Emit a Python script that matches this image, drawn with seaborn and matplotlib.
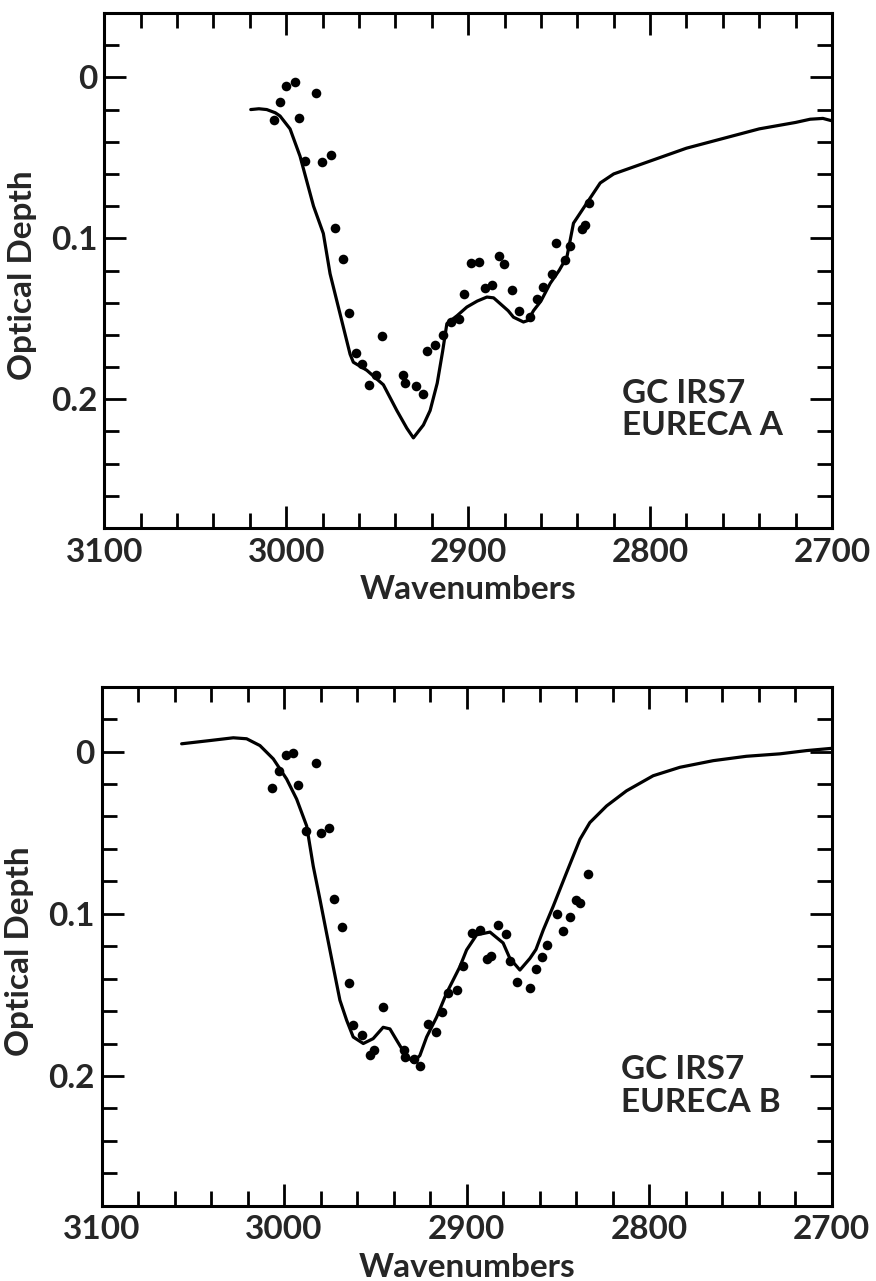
import matplotlib
matplotlib.use("Agg")
import matplotlib.pyplot as plt
from matplotlib.ticker import MultipleLocator, FixedLocator, FixedFormatter
import seaborn as sns
import pandas as pd

# ---------------- data ----------------
# Panel A (EURECA A) model curve
curve_a_wn = [3019.5, 3015, 3010.7, 3006, 3003.4, 2997.9, 2992.4, 2985, 2979.6, 2975.9,
              2970.4, 2964.9, 2963.1, 2955.7, 2946.6, 2939.2, 2933.7, 2930.1, 2924.6, 2920.9,
              2917, 2914, 2911.7, 2906, 2900.7, 2895, 2889.7, 2886, 2882.4, 2878,
              2875.1, 2869.6, 2867, 2864.1, 2860, 2854.9, 2850, 2845.7, 2842.1, 2834.7,
              2827.4, 2820, 2810, 2800, 2790, 2780, 2770, 2760, 2750, 2740,
              2730, 2720, 2712, 2705, 2700]
curve_a_tau = [0.020, 0.0195, 0.020, 0.022, 0.024, 0.032, 0.049, 0.080, 0.097, 0.122,
               0.147, 0.172, 0.177, 0.182, 0.191, 0.207, 0.218, 0.224, 0.216, 0.207,
               0.190, 0.170, 0.153, 0.148, 0.1427, 0.139, 0.1365, 0.137, 0.1406, 0.145,
               0.149, 0.152, 0.151, 0.145, 0.139, 0.128, 0.120, 0.1115, 0.0906, 0.078,
               0.0656, 0.060, 0.056, 0.052, 0.048, 0.044, 0.041, 0.038, 0.035, 0.032,
               0.030, 0.028, 0.026, 0.0255, 0.027]

# Panel A observed points
pts_a_wn = [3006.7, 3003.4, 3000.1, 2995.1, 2992.8, 2989.6, 2983.8, 2980.5, 2975.5, 2973,
            2968.9, 2965.3, 2961.6, 2958.5, 2954.3, 2950.6, 2947.3, 2935.6, 2934.6, 2928.6,
            2924.6, 2922.4, 2918, 2914, 2909.5, 2905.3, 2902.2, 2898.5, 2893.8, 2890.6,
            2887, 2882.8, 2880.2, 2876, 2871.8, 2865.9, 2862.2, 2858.6, 2854, 2851.8,
            2846.7, 2843.9, 2837.5, 2836, 2833.8]
pts_a_tau = [0.0267, 0.0152, 0.0056, 0.0031, 0.025, 0.0519, 0.0098, 0.0525, 0.048, 0.0936,
             0.1127, 0.1465, 0.171, 0.178, 0.191, 0.185, 0.161, 0.185, 0.190, 0.1917,
             0.1965, 0.170, 0.166, 0.160, 0.1517, 0.150, 0.1348, 0.1156, 0.115, 0.131,
             0.129, 0.111, 0.116, 0.132, 0.145, 0.149, 0.1375, 0.130, 0.122, 0.103,
             0.1136, 0.105, 0.094, 0.092, 0.078]

# Panel B (EURECA B) model curve
curve_b_wn = [3056.1, 3040.6, 3027.8, 3020.5, 3013.2, 3005.9, 2998.6, 2993.1, 2987.6, 2984,
              2980.3, 2976.7, 2973, 2969.4, 2965.7, 2962.1, 2956.6, 2951.2, 2945.7, 2942,
              2938.3, 2933.8, 2929.2, 2925.6, 2921.9, 2916.4, 2911, 2903.7, 2900, 2894.5,
              2887.2, 2880, 2876.3, 2870.8, 2865.3, 2862, 2858, 2852.6, 2845.3, 2837.9,
              2832.5, 2823.3, 2812.4, 2797.8, 2783.2, 2764.9, 2746.7, 2728.4, 2713.8, 2700]
curve_b_tau = [-0.0048, -0.0068, -0.0085, -0.0079, -0.0037, 0.0045, 0.0169, 0.0293, 0.0459, 0.0707,
               0.0913, 0.112, 0.133, 0.1533, 0.1657, 0.176, 0.180, 0.177, 0.170, 0.171,
               0.178, 0.1864, 0.1916, 0.1874, 0.176, 0.1637, 0.149, 0.1327, 0.1223, 0.113,
               0.1113, 0.118, 0.1275, 0.1347, 0.1275, 0.122, 0.110, 0.0955, 0.0748, 0.0541,
               0.0438, 0.0335, 0.0242, 0.0149, 0.0097, 0.0056, 0.0029, 0.0014, -0.0006, -0.002]

# Panel B observed points
pts_b_wn = [3006.8, 3002.8, 2998.9, 2995, 2992.2, 2988.2, 2982.7, 2980, 2975.4, 2972.7,
            2968.5, 2964.6, 2962.1, 2957.2, 2953, 2950.8, 2946, 2934.3, 2933.8, 2928.9,
            2925.6, 2921, 2916.8, 2913.7, 2910, 2905.5, 2901.9, 2897.3, 2892.7, 2889,
            2886.9, 2882.7, 2878.5, 2876.3, 2872.3, 2865.3, 2862, 2858.9, 2855.9, 2850.7,
            2847.4, 2843.4, 2839.8, 2837.9, 2833.4]
pts_b_tau = [0.0227, 0.0118, 0.002, 0.0008, 0.0204, 0.0487, 0.0072, 0.0504, 0.0473, 0.0909,
             0.1083, 0.1426, 0.1688, 0.1746, 0.1868, 0.1843, 0.1575, 0.1843, 0.1885, 0.1895,
             0.1936, 0.1678, 0.173, 0.1606, 0.1486, 0.1467, 0.1322, 0.112, 0.1103, 0.128,
             0.126, 0.107, 0.1124, 0.129, 0.142, 0.1457, 0.1343, 0.1265, 0.1192, 0.100,
             0.1105, 0.1017, 0.0917, 0.0934, 0.0754]

x_ticks = [3100, 3000, 2900, 2800, 2700]
x_tick_labels = ["3100", "3000", "2900", "2800", "2700"]
y_ticks = [0, 0.1, 0.2]
y_tick_labels = ["0", "0.1", "0.2"]
labels = ["GC IRS7\nEURECA A", "GC IRS7\nEURECA B"]

# ---------------- plotting ----------------
sns.set_theme(style="ticks")
plt.rcParams['font.family'] = ['Lato', 'DejaVu Sans']
plt.rcParams['font.weight'] = 'bold'

fig = plt.figure(figsize=(8.76, 12.81), dpi=100)
ax_a = fig.add_axes([104.3 / 876, 1 - 528 / 1281, (832 - 104.3) / 876, 515 / 1281])
ax_b = fig.add_axes([101.5 / 876, 1 - 1205.7 / 1281, (831.7 - 101.5) / 876, 519 / 1281])

panels = [
    (ax_a, curve_a_wn, curve_a_tau, pts_a_wn, pts_a_tau, labels[0]),
    (ax_b, curve_b_wn, curve_b_tau, pts_b_wn, pts_b_tau, labels[1]),
]

fs = 24
for ax, cw, ct, pw, pt, lab in panels:
    dfc = pd.DataFrame({"wn": cw, "tau": ct})
    dfp = pd.DataFrame({"wn": pw, "tau": pt})
    sns.lineplot(data=dfc, x="wn", y="tau", sort=False, estimator=None,
                 color="black", linewidth=2.3, ax=ax)
    sns.scatterplot(data=dfp, x="wn", y="tau", color="black", s=48,
                    linewidth=0, ax=ax, zorder=3)

    ax.set_xlim(3100, 2700)
    ax.set_ylim(0.28, -0.04)
    ax.xaxis.set_major_locator(FixedLocator(x_ticks))
    ax.xaxis.set_major_formatter(FixedFormatter(x_tick_labels))
    ax.xaxis.set_minor_locator(MultipleLocator(20))
    ax.yaxis.set_major_locator(FixedLocator(y_ticks))
    ax.yaxis.set_major_formatter(FixedFormatter(y_tick_labels))
    ax.yaxis.set_minor_locator(MultipleLocator(0.02))

    ax.tick_params(which="both", direction="in", top=True, right=True,
                   width=2, color="black")
    ax.tick_params(which="major", length=16, labelsize=fs, pad=7)
    ax.tick_params(which="minor", length=10.5)
    ax.tick_params(axis="y", which="major", pad=5)
    for sp in ax.spines.values():
        sp.set_linewidth(2.2)
        sp.set_color("black")
        sp.set_visible(True)

    ax.set_xlabel("Wavenumbers", fontsize=fs, fontweight="bold", va="top")
    ax.set_ylabel("Optical Depth", fontsize=fs, fontweight="bold")
    ax.xaxis.set_label_coords(0.5, -0.092)
    ax.yaxis.set_label_coords(-0.092, 0.49)

    ax.text(0.711, 0.29, lab, transform=ax.transAxes, ha="left", va="top",
            fontsize=fs, fontweight="bold", linespacing=1.15)

    for t in ax.get_xticklabels() + ax.get_yticklabels():
        t.set_fontweight("bold")

fig.savefig("out.png", dpi=100, facecolor="white")
